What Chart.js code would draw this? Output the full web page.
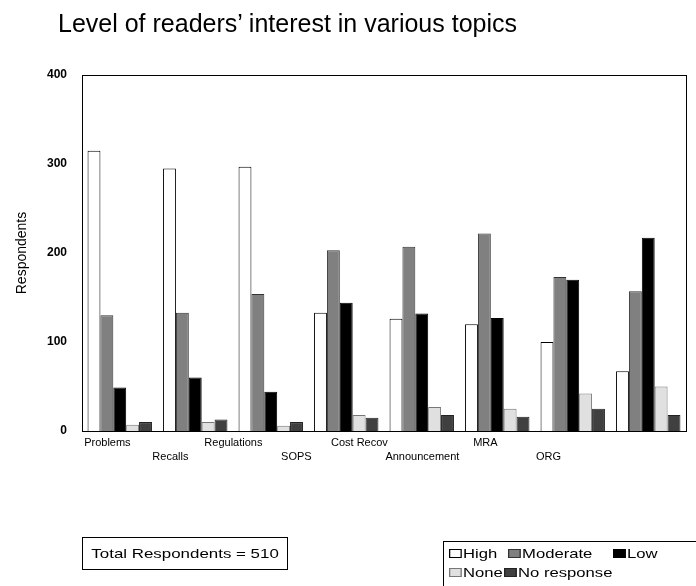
<!DOCTYPE html>
<html>
<head>
<meta charset="utf-8">
<script src="https://cdn.jsdelivr.net/npm/chart.js@4/dist/chart.umd.min.js"></script>
<style>
  html, body { margin: 0; padding: 0; background: #fff; overflow: hidden; }
  #wrap { position: relative; width: 696px; height: 586px; overflow: hidden; font-family: "Liberation Sans", Arial, sans-serif; color: #000; }
  #chart { position: absolute; left: 0; top: 0; }
  #title { position: absolute; left: 58px; top: 9px; font-size: 25px; white-space: nowrap; }
  #total { position: absolute; left: 82px; top: 537px; width: 206px; height: 33px; border: 1px solid #000; box-sizing: border-box; font-size: 13px; line-height: 31px; text-align: center; }
  #total span { display: inline-block; transform: scaleX(1.3); }
  #legend { position: absolute; left: 443px; top: 541px; width: 270px; height: 60px; border: 1px solid #000; box-sizing: border-box; font-size: 13px; }
  .item { position: absolute; white-space: nowrap; line-height: 17px; transform: scaleX(1.28); transform-origin: left center; }
  .sw { display: inline-block; width: 8px; height: 7px; border: 1px solid #000; margin-right: 1px; vertical-align: 0px; }
</style>
</head>
<body>
<div id="wrap">
  <canvas id="chart" width="696" height="586"></canvas>
  <div id="title">Level of readers’ interest in various topics</div>
  <div id="total"><span>Total Respondents = 510</span></div>
  <div id="legend"></div>
</div>
<script>
// Topics and response counts per interest level
const categories = ['Problems', 'Recalls', 'Regulations', 'SOPS', 'Cost Recov', 'Announcement', 'MRA', 'ORG'];
const seriesNames = ['High', 'Moderate', 'Low', 'None', 'No response'];
const high       = [315, 295, 297, 133, 126, 120, 100, 67];
const moderate   = [130, 133, 154, 203, 207, 222, 173, 157];
const low        = [49, 60, 44, 144, 132, 127, 170, 217];
const none       = [7, 10, 6, 18, 27, 25, 42, 50];
const noResponse = [10, 13, 10, 15, 18, 16, 25, 18];
const yTicks = [0, 100, 200, 300, 400];

const fills   = ['#ffffff', '#808080', '#000000', '#e0e0e0', '#404040'];
const borders = ['#000000', '#333333', '#000000', '#777777', '#222222'];
const seriesValues = [high, moderate, low, none, noResponse];

const datasets = seriesNames.map((name, i) => ({
  label: name,
  data: seriesValues[i],
  backgroundColor: fills[i],
  borderColor: borders[i],
  borderWidth: 1,
  categoryPercentage: 0.853,
  barPercentage: 1.0
}));

// Frame around the plotting area
const frame = {
  id: 'frame',
  afterDraw(chart) {
    const a = chart.chartArea, ctx = chart.ctx;
    ctx.save();
    ctx.strokeStyle = '#000';
    ctx.lineWidth = 1;
    ctx.strokeRect(Math.round(a.left) + 0.5, Math.round(a.top) + 0.5, Math.round(a.right - a.left), Math.round(a.bottom - a.top));
    ctx.restore();
  }
};

new Chart(document.getElementById('chart'), {
  type: 'bar',
  data: { labels: categories, datasets },
  options: {
    responsive: false,
    animation: false,
    devicePixelRatio: 1,
    layout: { padding: { left: 0, right: 10, top: 75, bottom: 115 } },
    plugins: { legend: { display: false }, tooltip: { enabled: false }, title: { display: false } },
    scales: {
      x: {
        weight: 0,
        grid: { display: false },
        border: { display: true, color: '#000', width: 1 },
        ticks: { display: false },
        afterFit(s) { s.height = 0; }
      },
      // staggered topic labels on their own linear scale
      x2: {
        type: 'linear',
        position: 'bottom',
        weight: 1,
        offset: false,
        min: -0.403,
        max: 9.184,
        grid: { display: false, drawTicks: false, offset: false },
        border: { display: false },
        afterBuildTicks(s) { s.ticks = categories.map((_, i) => ({ value: i })); },
        ticks: {
          autoSkip: false,
          maxRotation: 0,
          minRotation: 0,
          padding: 4,
          color: '#000',
          font: { family: 'Liberation Sans', size: 11, lineHeight: 1.36 },
          callback: (v) => (v % 2 ? ['', categories[v]] : categories[v])
        },
        afterFit(s) { s.height = 40; }
      },
      y: {
        min: 0,
        max: 400,
        grid: { display: false, drawTicks: false },
        border: { display: true, color: '#000', width: 1 },
        afterBuildTicks(s) { s.ticks = yTicks.map(v => ({ value: v })); },
        ticks: {
          padding: 15,
          color: '#000',
          font: { family: 'Liberation Sans', size: 12, weight: 'bold' }
        },
        title: {
          display: true,
          text: 'Respondents',
          color: '#000',
          padding: { top: 14, bottom: 0 },
          font: { family: 'Liberation Sans', size: 14 }
        },
        afterFit(s) { s.width = 82; }
      }
    }
  },
  plugins: [frame]
});

// Legend box built from the datasets
const legendPos = [[5, 3], [64, 3], [169, 3], [5, 22], [60, 22]];
const legend = document.getElementById('legend');
datasets.forEach((d, i) => {
  const el = document.createElement('div');
  el.className = 'item';
  el.style.left = legendPos[i][0] + 'px';
  el.style.top = legendPos[i][1] + 'px';
  const sw = document.createElement('span');
  sw.className = 'sw';
  sw.style.background = d.backgroundColor;
  sw.style.borderColor = d.borderColor;
  el.appendChild(sw);
  el.appendChild(document.createTextNode(d.label));
  legend.appendChild(el);
});
</script>
</body>
</html>
